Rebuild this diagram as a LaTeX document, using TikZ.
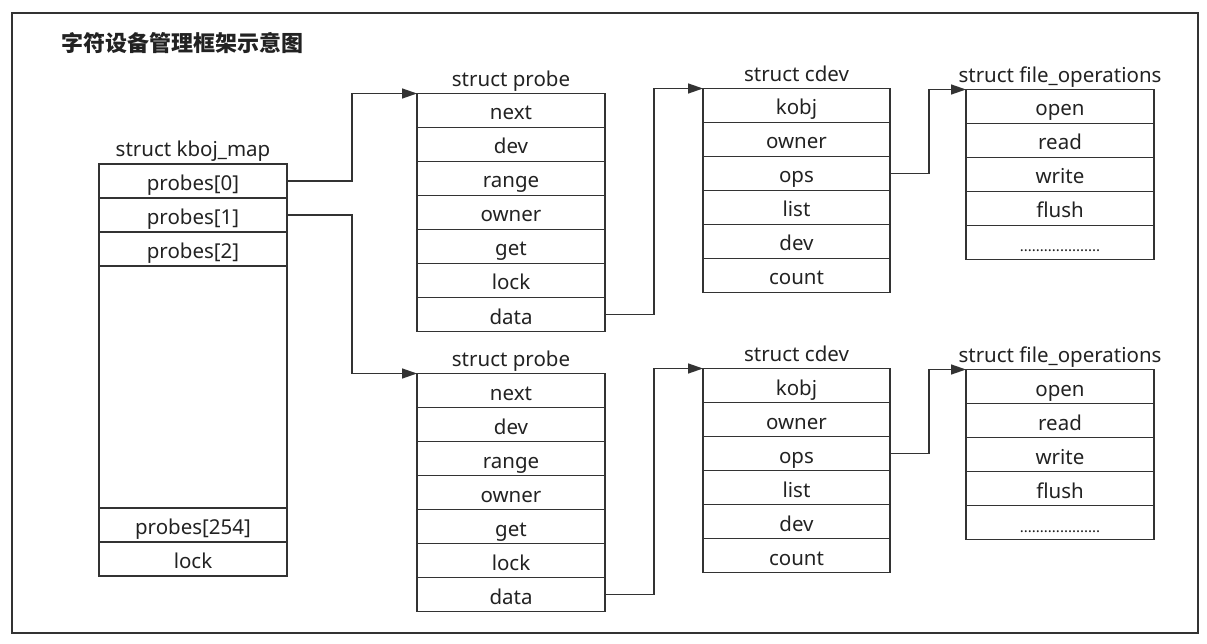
\documentclass[tikz,border=0pt]{standalone}
\usepackage{fontspec}
\setmainfont{Noto Sans}
\newfontfamily\cjk{Noto Sans CJK SC}
\usetikzlibrary{positioning,arrows.meta}
\definecolor{linegray}{HTML}{333333}
\definecolor{textgray}{HTML}{222222}
\tikzset{
  cell/.style={draw=linegray,line width=1.4pt,minimum width=188pt,minimum height=34pt,
    inner sep=0pt,outer sep=0pt,text height=19pt,text depth=0pt,
    font=\fontsize{20.5}{20.5}\selectfont,text=textgray},
  head/.style={inner sep=0pt,text depth=0pt,font=\fontsize{20.5}{20.5}\selectfont,text=textgray},
  link/.style={draw=linegray,line width=1.4pt,-{Triangle[length=15pt,width=10pt]}},
}
\begin{document}
\begin{tikzpicture}[x=1pt,y=-1pt]
\useasboundingbox (0,0) rectangle (1207,644);
\draw[linegray,line width=1.5pt] (12,13) rectangle (1198,633);
\node[anchor=west,font=\cjk\bfseries\fontsize{22}{22}\selectfont,text=textgray] (title) at (58,43) {字符设备管理框架示意图};
%
% struct kboj_map
\foreach \t [count=\i] in {probes[0],probes[1],probes[2]}
  \node[cell] (k\i) at (193,{164+34*\i-17}) {\t};
\node[cell,minimum height=242pt] (kgap) at (193,387) {};
\node[cell] (k254) at (193,525) {probes[254]};
\node[cell] (klock) at (193,559) {lock};
\node[head,above=7pt of k1] (khead) {struct kboj\_map};
%
% probe -> cdev -> file_operations, twice
\foreach \k/\dy in {1/0,2/280}{
  \foreach \t [count=\i] in {next,dev,range,owner,get,lock,data}
    \node[cell] (p\k-\i) at (511,{93.5+\dy+34*\i-17}) {\t};
  \node[head,above=7pt of p\k-1] (ph\k) {struct probe};
  \foreach \t [count=\i] in {kobj,owner,ops,list,dev,count}
    \node[cell,minimum width=187pt] (c\k-\i) at (796.5,{88.5+\dy+34*\i-17}) {\t};
  \node[head,above=7pt of c\k-1] (ch\k) {struct cdev};
  \foreach \t [count=\i] in {open,read,write,flush}
    \node[cell] (f\k-\i) at (1060,{89.5+\dy+34*\i-17}) {\t};
  \node[cell,font=\fontsize{15}{15}\selectfont] (f\k-5) at (1060,{89.5+\dy+153}) {....................};
  \node[head,above=7pt of f\k-1] (fh\k) {struct file\_operations};
  \draw[link] (p\k-7.east) -- ++(49,0) |- (c\k-1.north west);
  \draw[link] (c\k-3.east) -- ++(39,0) |- (f\k-1.north west);
}
%
\draw[link] (k1.east) -- ++(65,0) |- (p1-1.north west);
\draw[link] (k2.east) -- ++(65,0) |- (p2-1.north west);
\end{tikzpicture}
\end{document}
